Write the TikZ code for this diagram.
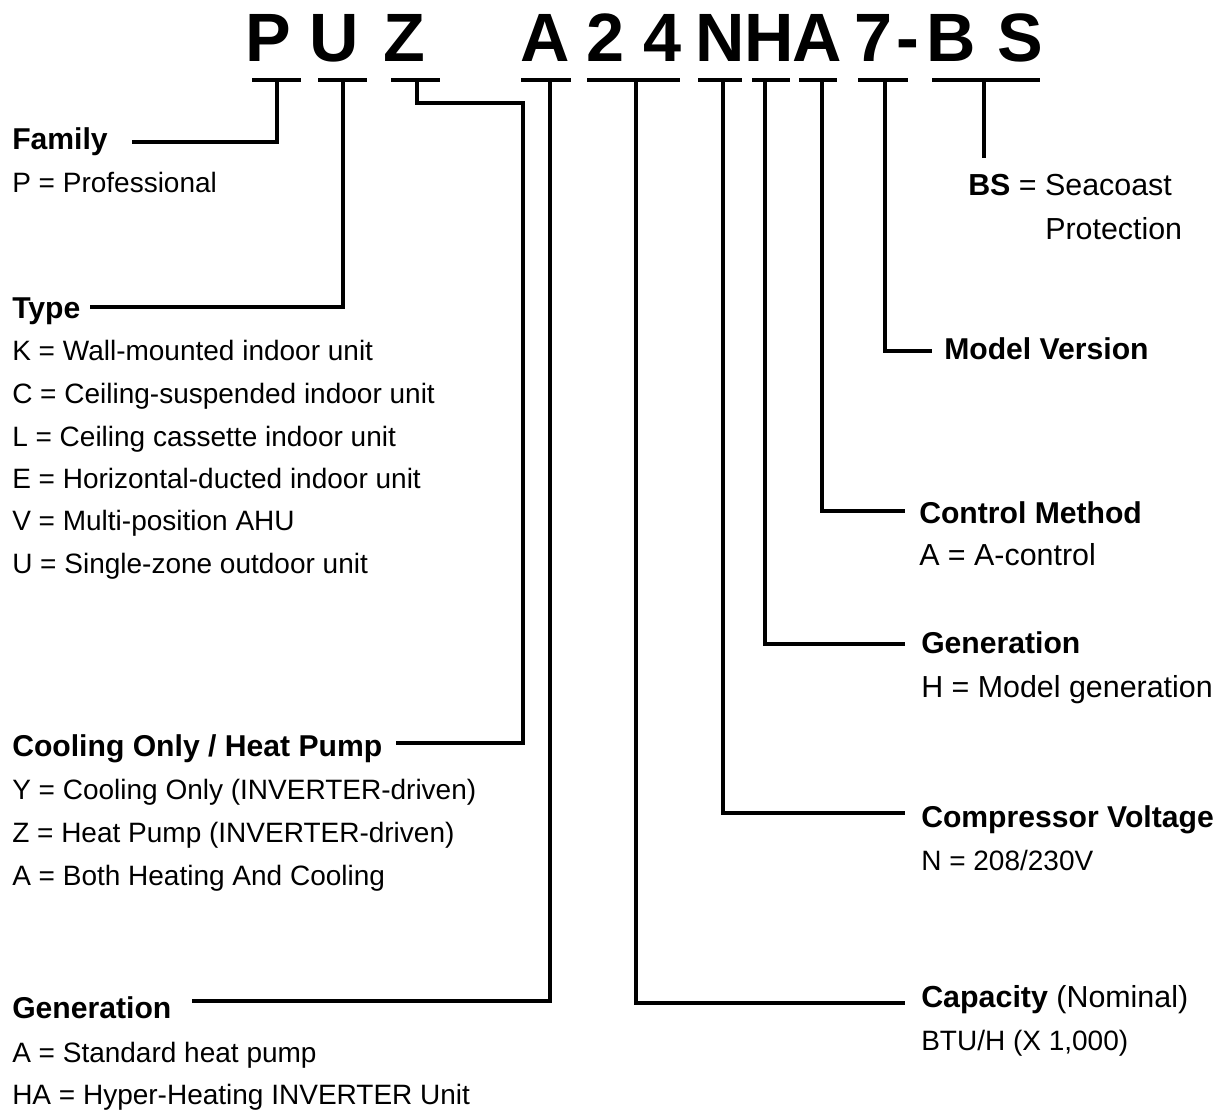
\documentclass[tikz,border=0pt]{standalone}
\usepackage{fontspec}
\setmainfont{Liberation Sans}
\begin{document}
\begin{tikzpicture}[x=0.75pt,y=-0.75pt,
  conn/.style={line width=3.1pt, line join=miter},
  uline/.style={line width=3.1pt},
  big/.style={font=\fontsize{51.3pt}{60pt}\selectfont\bfseries, anchor=base, inner sep=0pt},
  hd/.style={font=\fontsize{22.6pt}{27pt}\selectfont\bfseries, anchor=base west, inner sep=0pt},
  tx/.style={font=\fontsize{22.8pt}{27pt}\selectfont, anchor=base west, inner sep=0pt},
  txs/.style={font=\fontsize{21pt}{25pt}\selectfont, anchor=base west, inner sep=0pt}]
\useasboundingbox (0,0) rectangle (1226,1112);

% ---- model code letters
\node[big] (cP)  at (268,62)   {P};
\node[big] (cU)  at (334,62)   {U};
\node[big] (cZ)  at (404,62)   {Z};
\node[big] (cA)  at (545.5,62) {A};
\node[big] (c2)  at (605.5,62) {2};
\node[big] (c4)  at (662.5,62) {4};
\node[big] (cN)  at (720,62)   {N};
\node[big] (cH)  at (769,62)   {H};
\node[big] (cA2) at (817.5,62) {A};
\node[big] (c7)  at (874,62)   {7};
\node[big] (cd)  at (908,62)   {-};
\node[big] (cB)  at (951.5,62) {B};
\node[big] (cS)  at (1020,62)  {S};

% ---- underlines
\draw[uline] (252,80) -- (301,80);
\draw[uline] (318,80) -- (367,80);
\draw[uline] (391,80) -- (440,80);
\draw[uline] (521,80) -- (571,80);
\draw[uline] (587,80) -- (680,80);
\draw[uline] (698,80) -- (742,80);
\draw[uline] (752,80) -- (790,80);
\draw[uline] (799,80) -- (837,80);
\draw[uline] (858,80) -- (908,80);
\draw[uline] (932,80) -- (1040,80);

\coordinate (uP)  at (277,80);
\coordinate (uU)  at (343,80);
\coordinate (uZ)  at (417,80);
\coordinate (uA)  at (550,80);
\coordinate (u24) at (636,80);
\coordinate (uN)  at (723,80);
\coordinate (uH)  at (765,80);
\coordinate (uA2) at (822,80);
\coordinate (u7)  at (885,80);
\coordinate (uBS) at (984,80);

% ---- left texts
\node[hd] (family) at (12,150) {Family};
\node[txs] (familyP) at (12,193) {P = Professional};

\node[hd] (type) at (12,318) {Type};
\node[txs] (typeK) at (12,360) {K = Wall-mounted indoor unit};
\node[txs] (typeC) at (12,403) {C = Ceiling-suspended indoor unit};
\node[txs] (typeL) at (12,446) {L = Ceiling cassette indoor unit};
\node[txs] (typeE) at (12,488) {E = Horizontal-ducted indoor unit};
\node[txs] (typeV) at (12,530) {V = Multi-position AHU};
\node[txs] (typeU) at (12,573) {U = Single-zone outdoor unit};

\node[hd] (cool) at (12,756) {Cooling Only / Heat Pump};
\node[txs] (coolY) at (12,799) {Y = Cooling Only (INVERTER-driven)};
\node[txs] (coolZ) at (12,842) {Z = Heat Pump (INVERTER-driven)};
\node[txs] (coolA) at (12,885) {A = Both Heating And Cooling};

\node[hd] (genL) at (12,1018) {Generation};
\node[txs] (genLA) at (12,1062) {A = Standard heat pump};
\node[txs] (genLHA) at (12,1104) {HA = Hyper-Heating INVERTER Unit};

% ---- right texts
\node[tx] (bs) at (968,196) {\textbf{BS} = Seacoast};
\node[tx] (bs2) at (1045,240) {Protection};

\node[hd] (mv) at (944,359) {Model Version};

\node[hd] (ctrl) at (919,523) {Control Method};
\node[tx] (ctrlA) at (919,565) {A = A-control};

\node[hd] (genR) at (921,653) {Generation};
\node[tx] (genRH) at (921,697) {H = Model generation};

\node[hd] (comp) at (921,827) {Compressor Voltage};
\node[txs] (compN) at (921,870) {N = 208/230V};

\node[tx] (cap) at (921,1007) {\textbf{Capacity} (Nominal)};
\node[txs] (capB) at (921,1050) {BTU/H (X 1,000)};

% ---- connector free ends
\coordinate (eFam)  at (132,142);
\coordinate (eType) at (90,307);
\coordinate (eCool) at (396,743);
\coordinate (eGenL) at (192,1001);
\coordinate (eBS)   at (984,158);
\coordinate (eMV)   at (932,351);
\coordinate (eCtrl) at (905,511);
\coordinate (eGenR) at (905,644);
\coordinate (eComp) at (905,813);
\coordinate (eCap)  at (905,1003);

% ---- connectors
\draw[conn] (uP) |- (eFam);
\draw[conn] (uU) |- (eType);
\draw[conn] (uZ) -- (417,103) -| (523,743) -- (eCool);
\draw[conn] (uA) |- (eGenL);
\draw[conn] (u24) |- (eCap);
\draw[conn] (uN) |- (eComp);
\draw[conn] (uH) |- (eGenR);
\draw[conn] (uA2) |- (eCtrl);
\draw[conn] (u7) |- (eMV);
\draw[conn] (uBS) -- (eBS);
\end{tikzpicture}
\end{document}
